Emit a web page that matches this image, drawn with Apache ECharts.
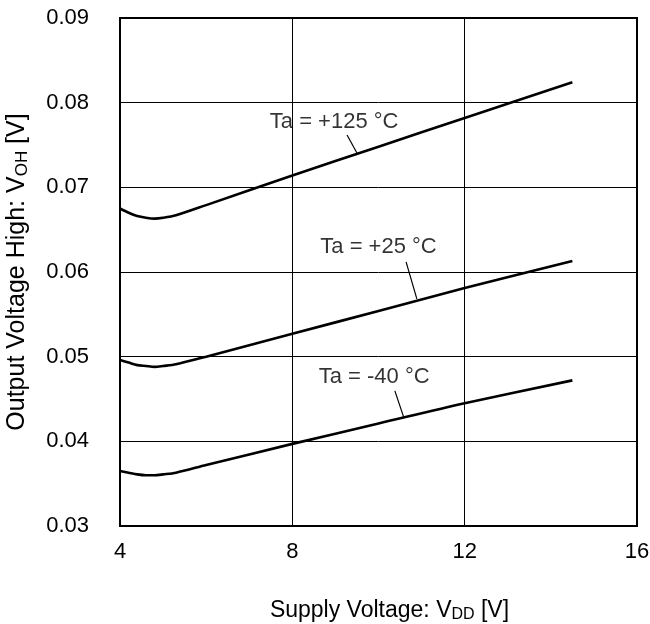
<!DOCTYPE html>
<html>
<head>
<meta charset="utf-8">
<script src="https://cdn.jsdelivr.net/npm/echarts@6/dist/echarts.min.js"></script>
<style>html,body{margin:0;padding:0;background:#fff}#c{width:650px;height:624px}</style>
</head>
<body>
<div id="c"></div>
<script>
// Supply voltage (V)
const vdd = [4.0, 4.2, 4.4, 4.6, 4.8, 5.0, 5.3, 6.0, 8.0, 10.0, 12.0, 14.5];
// Output voltage high (V)
const voh125 = [0.0675, 0.0670, 0.0666, 0.0664, 0.0663, 0.0664, 0.0667, 0.0679, 0.0714, 0.0748, 0.0782, 0.0824];
const voh25  = [0.0496, 0.0493, 0.0490, 0.0489, 0.0488, 0.0489, 0.0491, 0.0500, 0.0527, 0.0554, 0.0581, 0.0613];
const vohM40 = [0.0365, 0.0363, 0.0361, 0.0360, 0.0360, 0.0361, 0.0363, 0.0372, 0.0397, 0.0421, 0.0445, 0.0472];
const seriesNames = ['Ta = +125 °C', 'Ta = +25 °C', 'Ta = -40 °C'];
// annotation anchors (data coords): label centre, leader start, leader end
const labelPos = [[8.97, 0.0777], [10.0, 0.0630], [9.9, 0.0476]];
const leaderA = [[9.27, 0.07619], [10.64, 0.06119], [10.38, 0.04596]];
const leaderB = [[9.50, 0.07406], [10.89, 0.05682], [10.59, 0.04277]];
const xTicks = [4, 8, 12, 16];

const FONT = 'Liberation Sans, Arial, sans-serif';
const chart = echarts.init(document.getElementById('c'));
const curves = [voh125, voh25, vohM40];
const series = [];
curves.forEach((arr, i) => {
  series.push({
    type: 'line', name: seriesNames[i], data: vdd.map((v, j) => [v, arr[j]]),
    showSymbol: false, smooth: 0.3, lineStyle: {color: '#000', width: 2.6}, z: 5
  });
  series.push({
    type: 'line', data: [leaderA[i], leaderB[i]], showSymbol: false,
    lineStyle: {color: '#000', width: 1.2}, z: 6
  });
});
series.push({
  type: 'scatter', symbolSize: 0, z: 7,
  data: labelPos.map((p, i) => ({value: p, name: seriesNames[i]})),
  label: {show: true, position: 'inside', formatter: p => p.name, color: '#000', fontSize: 22, fontFamily: FONT}
});
chart.setOption({
  animation: false,
  grid: {left: 120, right: 13, top: 18, bottom: 98, show: true, borderColor: '#000', borderWidth: 2, outerBoundsMode: 'none', containLabel: false},
  xAxis: {
    type: 'value', min: 4, max: 16, interval: 4,
    axisLine: {show: true, lineStyle: {color: '#000', width: 2}},
    axisTick: {show: false},
    splitLine: {show: true, lineStyle: {color: '#000', width: 1}},
    axisLabel: {color: '#000', fontSize: 22, fontFamily: FONT, margin: 15},
    name: '{a|Supply Voltage: V}{b|DD}{a| [V]}',
    nameLocation: 'middle', nameGap: 72,
    nameTextStyle: {padding: [0, 0, 0, 22], rich: {a: {fontSize: 23, fontFamily: FONT, color: '#000'}, b: {fontSize: 16, fontFamily: FONT, color: '#000', padding: [9, 0, 0, 0]}}}
  },
  yAxis: {
    type: 'value', min: 0.03, max: 0.09, interval: 0.01,
    axisLine: {show: true, lineStyle: {color: '#000', width: 2}},
    axisTick: {show: false},
    splitLine: {show: true, lineStyle: {color: '#000', width: 1}},
    axisLabel: {color: '#000', fontSize: 22, fontFamily: FONT, margin: 31, formatter: v => v.toFixed(2)},
    name: '{a|Output Voltage High: V}{b|OH}{a| [V]}',
    nameLocation: 'middle', nameGap: 89, nameRotate: 90,
    nameTextStyle: {rich: {a: {fontSize: 25, fontFamily: FONT, color: '#000'}, b: {fontSize: 17, fontFamily: FONT, color: '#000', padding: [10, 0, 0, 0]}}}
  },
  series
});
</script>
</body>
</html>
